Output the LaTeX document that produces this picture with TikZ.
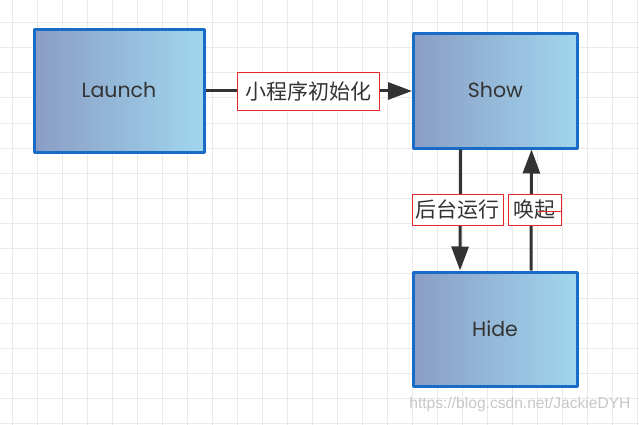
\documentclass[tikz,border=0pt]{standalone}
\usepackage{fontspec}
\setmainfont{Poppins}
\newfontfamily\cjk{Noto Sans CJK SC}
\newfontfamily\wmfont{Liberation Sans}
\usetikzlibrary{arrows.meta}
\definecolor{boxleft}{RGB}{138,157,196}
\definecolor{boxright}{RGB}{160,214,238}
\definecolor{boxedge}{RGB}{24,108,200}
\definecolor{ink}{RGB}{51,51,51}
\definecolor{gridgray}{RGB}{234,234,234}
\definecolor{tagred}{RGB}{230,40,40}
\tikzset{
  state/.style={draw=boxedge,line width=3pt,left color=boxleft,right color=boxright,
    text=ink,font=\fontsize{20.5}{20.5}\selectfont,inner sep=0pt},
  tag/.style={draw=tagred,line width=0.7pt,fill=white,text=ink,
    font=\cjk\fontsize{21}{21}\selectfont,inner sep=0pt}
}
\begin{document}
\begin{tikzpicture}[x=1pt,y=-1pt,>={Triangle[length=24pt,width=17pt]},line join=round]
			\useasboundingbox[fill=white] (0,0) rectangle (639,425);
			% grid
			\foreach \gx in {12,37,...,637} \draw[gridgray,line width=1pt] (\gx,0)--(\gx,425);
			\foreach \gy in {23,48,...,423} \draw[gridgray,line width=1pt] (0,\gy)--(639,\gy);
			\node[state,minimum width=170,minimum height=122] (launch) at (119,91) {\raisebox{2pt}{Launch}};
			\node[state,minimum width=164,minimum height=114] (show) at (495.5,91) {\raisebox{2pt}{Show}};
			\node[state,minimum width=164,minimum height=114] (hide) at (495,329) {\raisebox{1pt}{Hide}};
			\draw[->,ink,line width=3pt] (launch) -- (show)
				node[tag,midway,minimum width=142,minimum height=38] (init) {小程序初始化};
			\draw[->,ink,line width=3pt] ([xshift=-35]show.south) -- ([xshift=-35]hide.north)
				node[tag,midway,xshift=-2.5,minimum width=91,minimum height=31] (bg) {后台运行};
			\draw[->,ink,line width=3pt] ([xshift=36]hide.north) -- ([xshift=36]show.south)
				node[tag,midway,xshift=3.5,minimum width=53,minimum height=31] (wake) {唤起};
			\draw[tagred,line width=0.7pt] ([xshift=-24,yshift=-1]wake.east) -- ([yshift=-1]wake.east);
			\node[text=black!22,font=\wmfont\fontsize{15.6}{15.6}\selectfont,anchor=east] (mark) at (634,404) {https://blog.csdn.net/JackieDYH};
	\end{tikzpicture}
\end{document}
